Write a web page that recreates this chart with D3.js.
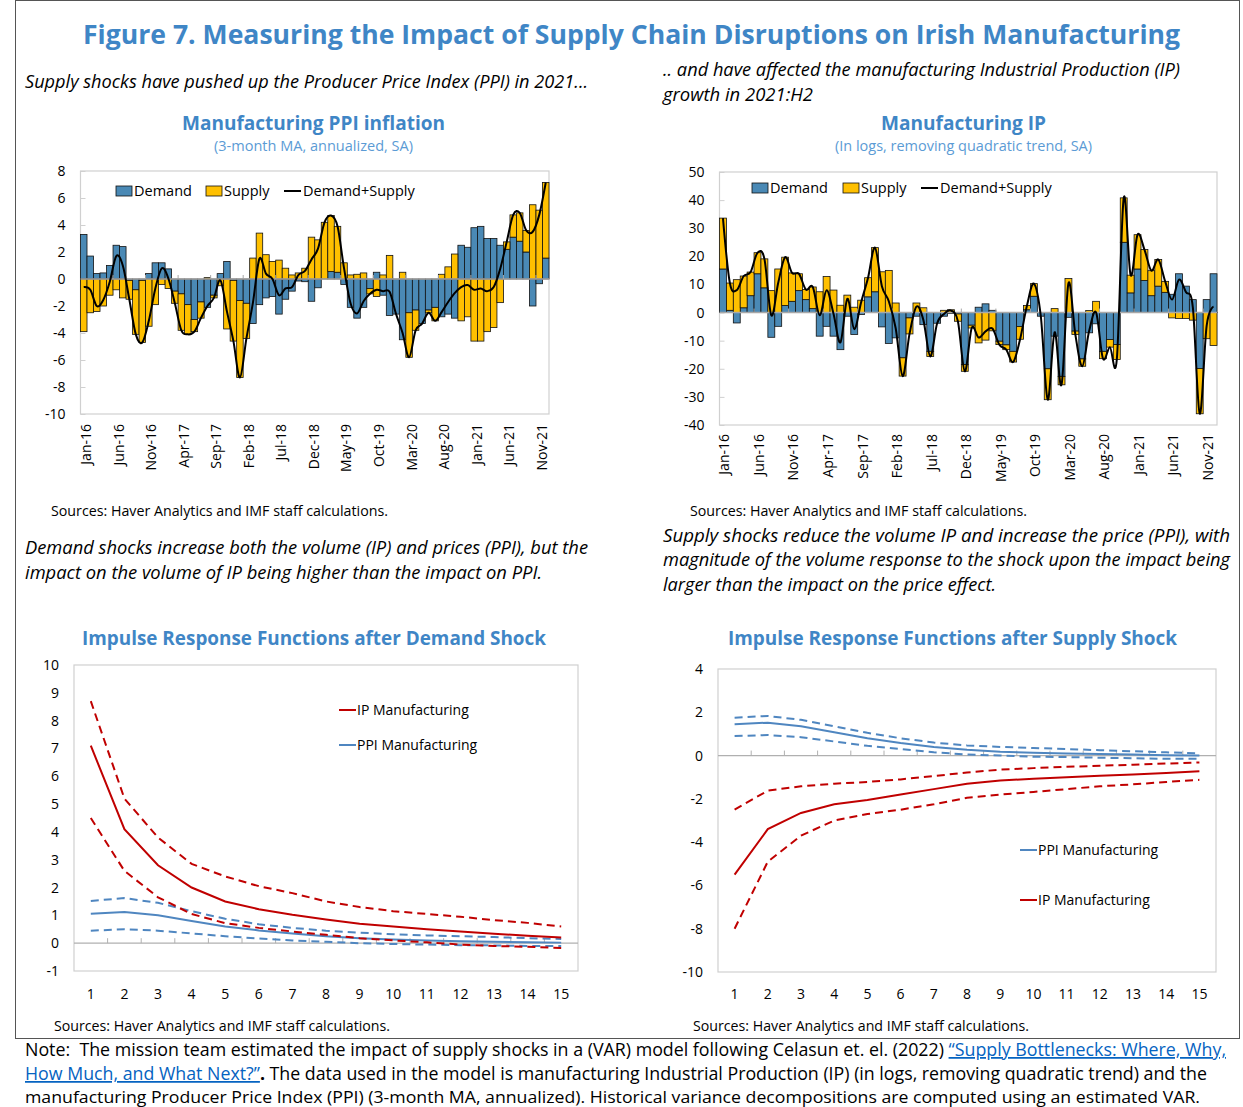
<!DOCTYPE html>
<html><head><meta charset="utf-8">
<script src="https://cdn.jsdelivr.net/npm/d3@7"></script>
<style>body{margin:0;background:#fff} svg{display:block}</style>
</head><body>
<svg id="c" width="1243" height="1107"></svg>
<script>
// ---------------- DATA ----------------
const months = d3.timeMonth.range(new Date(2016,0,1), new Date(2022,0,1)); // Jan-16 .. Dec-21
const dateTickLabels = ["Jan-16","Jun-16","Nov-16","Apr-17","Sep-17","Feb-18","Jul-18","Dec-18","May-19","Oct-19","Mar-20","Aug-20","Jan-21","Jun-21","Nov-21"];

const ppiDemand = [3.3,1.7,0.4,0.45,1.0,2.5,2.4,-0.1,-0.8,-0.1,0.4,1.2,1.2,0.75,-0.9,-1.1,-1.9,-3.0,-1.7,-2.1,-1.2,0.4,1.3,-0.1,
  -1.6,-1.8,-3.3,-1.9,-1.4,-1.3,-2.6,-1.5,-0.9,-0.15,-0.2,-1.65,-0.65,0,0.55,0.5,-0.4,-2.1,-2.9,-2.1,-0.7,0.5,-1.2,-2.7,
  -2.6,-4.5,-2.5,-2.3,-3.3,-2.3,-2.1,-2.8,-2.6,-2.9,2.5,2.35,3.8,3.9,3.0,3.0,2.5,2.2,3.1,2.8,2.0,-2.0,-0.35,1.55];
const ppiSupply = [-3.9,-2.5,-2.4,-2.0,-1.2,-0.8,-1.4,-1.4,-3.3,-4.6,-3.5,-1.9,-0.4,-0.7,-0.9,-2.7,-2.2,-0.9,-1.2,0.1,-0.2,-0.5,-3.7,-4.5,
  -5.7,-2.6,1.55,3.4,1.8,1.3,1.4,0.8,0.3,0.45,0.8,3.1,2.9,4.2,4.15,3.4,1.2,0.3,0.35,0.45,-0.4,-1.3,0.3,1.75,
  0,0.5,-3.3,-1.5,0,-0.2,-1.0,0.35,0.9,1.85,-3.1,-2.8,-4.6,-4.6,-3.9,-3.6,-1.75,0.55,1.65,2.1,1.6,5.5,5.1,5.6];

const ipDemand = [15.5,0.8,-3.7,1.7,6.0,13.8,8.8,-8.8,-4.9,2.5,4.0,7.8,4.6,1.4,-8.4,-4.9,-8.4,-13.2,-1.3,-7.8,-0.7,5.6,7.4,-5.1,
  -11,-9,-16.1,-1.9,-1.3,-4.3,-13.8,-3.8,-1.3,-0.3,-0.5,-18.5,-4.5,1.9,3.1,0.8,-10.2,-11.5,-13.8,-5,1.0,5.8,-1.3,-20,
  -8.4,-22.7,-1.7,-6.6,-16.5,-7.2,-4.0,-13.8,-9.6,-11.4,25.0,7.0,15.5,11.4,6.0,9.4,7.2,6.5,13.8,9.4,4.6,-19.9,4.6,13.8];
const ipSupply = [18.1,9.7,11.7,11.3,8.4,7.5,10.3,7.8,15.5,17.2,10.1,6.0,3.6,7.7,7.4,12.8,8.0,2.6,6.2,1.9,4.4,6.8,15.7,14.5,
  15,3.4,-6.5,-5.7,3.4,1.7,-1.8,0,0.8,1.0,-2.6,-2.4,-1.0,-10.8,-9.8,-6.5,-1.2,-1.7,-3.8,-4.5,1.5,4.5,0,-11,
  1.4,-3,12.1,-1.2,-2.6,0.7,4.0,-2.6,-2.7,-5.3,15.8,6.3,12.2,11.0,8.9,9.5,3.9,-1.9,-2.1,-2.1,-2.7,-16.1,-9.3,-11.7];

const ppiTicks = [-10,-8,-6,-4,-2,0,2,4,6,8];
const ipTicks = [-40,-30,-20,-10,0,10,20,30,40,50];

const horizons = [1,2,3,4,5,6,7,8,9,10,11,12,13,14,15];
const demTicks = [-1,0,1,2,3,4,5,6,7,8,9,10];
const supTicks = [-10,-8,-6,-4,-2,0,2,4];

const demIP    = [7.1,4.1,2.8,2.0,1.5,1.22,1.02,0.85,0.7,0.6,0.5,0.42,0.34,0.27,0.2];
const demIPhi  = [8.7,5.2,3.8,2.85,2.4,2.05,1.8,1.5,1.3,1.15,1.05,0.95,0.83,0.73,0.6];
const demIPlo  = [4.5,2.6,1.65,1.05,0.72,0.55,0.42,0.3,0.18,0.1,0.03,-0.05,-0.1,-0.13,-0.17];
const demPPI   = [1.06,1.12,1.0,0.8,0.6,0.46,0.35,0.25,0.18,0.13,0.1,0.07,0.05,0.03,0.02];
const demPPIhi = [1.52,1.62,1.45,1.15,0.88,0.68,0.55,0.45,0.38,0.32,0.28,0.25,0.22,0.18,0.15];
const demPPIlo = [0.45,0.5,0.45,0.35,0.25,0.17,0.1,0.05,0.0,-0.03,-0.05,-0.07,-0.08,-0.1,-0.1];

const supIP    = [-5.5,-3.4,-2.65,-2.25,-2.05,-1.8,-1.55,-1.3,-1.15,-1.07,-1.0,-0.93,-0.87,-0.8,-0.72];
const supIPhi  = [-2.5,-1.62,-1.42,-1.3,-1.22,-1.1,-0.95,-0.78,-0.65,-0.58,-0.52,-0.47,-0.42,-0.37,-0.32];
const supIPlo  = [-8.0,-4.9,-3.7,-3.0,-2.7,-2.5,-2.25,-1.95,-1.8,-1.68,-1.55,-1.42,-1.33,-1.22,-1.12];
const supPPI   = [1.45,1.52,1.35,1.08,0.8,0.58,0.4,0.27,0.18,0.13,0.1,0.07,0.05,0.02,0.0];
const supPPIhi = [1.75,1.83,1.65,1.35,1.05,0.8,0.6,0.47,0.4,0.35,0.3,0.25,0.2,0.15,0.1];
const supPPIlo = [0.9,0.95,0.85,0.65,0.45,0.3,0.15,0.05,0.0,-0.05,-0.07,-0.1,-0.12,-0.15,-0.15];

// ---------------- STYLE ----------------
const FONT = "'Open Sans','Noto Sans',sans-serif";
const TITLE_BLUE = "#3f86c6";
const SUB_BLUE = "#5b9bd5";
const BAR_BLUE = "#4a89b5";
const BAR_YELLOW = "#ffc000";
const RED = "#c00000";
const LBLUE = "#4f86c0";
const fmt = d => String(d); // plain hyphen minus, as in the original

const svg = d3.select("#c");

function txt(x, y, str, o = {}) {
  const t = svg.append("text").attr("x", x).attr("y", y)
    .attr("font-family", FONT).attr("font-size", o.size || 14)
    .attr("fill", o.fill || "#000");
  if (o.weight) t.attr("font-weight", o.weight);
  if (o.style) t.attr("font-style", o.style);
  if (o.anchor) t.attr("text-anchor", o.anchor);
  if (str !== null) t.text(str);
  if (o.width) t.attr("textLength", o.width).attr("lengthAdjust", "spacingAndGlyphs");
  return t;
}

// figure frame
svg.append("rect").attr("x", 15.5).attr("y", 0.5).attr("width", 1224).attr("height", 1038)
  .attr("fill", "none").attr("stroke", "#555").attr("stroke-width", 1);

// ---------------- TEXTS ----------------
txt(83, 44, "Figure 7. Measuring the Impact of Supply Chain Disruptions on Irish Manufacturing",
  {size: 27, weight: "bold", fill: TITLE_BLUE, width: 1097});
txt(25, 88, "Supply shocks have pushed up the Producer Price Index (PPI) in 2021...", {size: 17.5, style: "italic", width: 563});
txt(663, 76, ".. and have affected the manufacturing Industrial Production (IP)", {size: 17.5, style: "italic", width: 517});
txt(663, 101, "growth in 2021:H2", {size: 17.5, style: "italic", width: 150});

txt(182, 130, "Manufacturing PPI inflation", {size: 20, weight: "bold", fill: TITLE_BLUE, width: 263});
txt(214, 151, "(3-month MA, annualized, SA)", {size: 14, fill: SUB_BLUE, width: 199});
txt(881, 130, "Manufacturing IP", {size: 20, weight: "bold", fill: TITLE_BLUE, width: 165});
txt(835, 151, "(In logs, removing quadratic trend, SA)", {size: 14, fill: SUB_BLUE, width: 257});

txt(51, 516, "Sources: Haver Analytics and IMF staff calculations.", {size: 14, width: 337});
txt(690, 516, "Sources: Haver Analytics and IMF staff calculations.", {size: 14, width: 337});

txt(25, 554, "Demand shocks increase both the volume (IP) and prices (PPI), but the", {size: 17.5, style: "italic", width: 563});
txt(25, 579, "impact on the volume of IP being higher than the impact on PPI.", {size: 17.5, style: "italic", width: 517});
txt(663, 542, "Supply shocks reduce the volume IP and increase the price (PPI), with", {size: 17.5, style: "italic", width: 567});
txt(663, 566, "magnitude of the volume response to the shock upon the impact being", {size: 17.5, style: "italic", width: 567});
txt(663, 591, "larger than the impact on the price effect.", {size: 17.5, style: "italic", width: 333});

txt(82, 645, "Impulse Response Functions after Demand Shock", {size: 20, weight: "bold", fill: TITLE_BLUE, width: 464});
txt(728, 645, "Impulse Response Functions after Supply Shock", {size: 20, weight: "bold", fill: TITLE_BLUE, width: 449});

txt(54, 1031, "Sources: Haver Analytics and IMF staff calculations.", {size: 14, width: 336});
txt(693, 1031, "Sources: Haver Analytics and IMF staff calculations.", {size: 14, width: 336});

// note
{
  const LINK = "#0563c1";
  const t1 = txt(25, 1056, null, {size: 17.5, width: 1201});
  t1.append("tspan").text("Note:\u00a0 The mission team estimated the impact of supply shocks in a (VAR) model following Celasun et. el. (2022) ");
  t1.append("tspan").attr("fill", LINK).attr("text-decoration", "underline").text("\u201cSupply Bottlenecks: Where, Why,");
  const t2 = txt(25, 1080, null, {size: 17.5, width: 1182});
  t2.append("tspan").attr("fill", LINK).attr("text-decoration", "underline").text("How Much, and What Next?\u201d");
  t2.append("tspan").attr("font-weight", "bold").text(".");
  t2.append("tspan").text(" The data used in the model is manufacturing Industrial Production (IP) (in logs, removing quadratic trend) and the");
  txt(25, 1103, "manufacturing Producer Price Index (PPI) (3-month MA, annualized). Historical variance decompositions are computed using an estimated VAR.", {size: 17, width: 1175});
}

// ---------------- BAR CHARTS ----------------
function barChart(cfg) {
  const {L, R, T, B, dom, ticks, dem, sup, leg, labTop, labShift} = cfg;
  const x = d3.scaleBand().domain(d3.range(months.length)).range([L, R]).paddingInner(0).paddingOuter(0);
  const y = d3.scaleLinear().domain(dom).range([B, T]);
  const g = svg.append("g");

  g.append("rect").attr("x", L).attr("y", T).attr("width", R - L).attr("height", B - T)
    .attr("fill", "none").attr("stroke", "#d0d0d0").attr("stroke-width", 1.2);

  // y axis
  const ya = g.append("g").attr("transform", `translate(${L},0)`)
    .call(d3.axisLeft(y).tickValues(ticks).tickFormat(fmt).tickSizeInner(-5).tickSizeOuter(0).tickPadding(15));
  ya.select(".domain").remove();
  ya.selectAll("line").attr("stroke", "#d0d0d0");
  ya.selectAll("text").attr("font-family", FONT).attr("font-size", 14).attr("fill", "#000");

  // stacked bars
  const rows = dem.map((d, i) => ({i, Demand: d, Supply: sup[i]}));
  const series = d3.stack().keys(["Demand", "Supply"]).offset(d3.stackOffsetDiverging)(rows);
  const colors = {Demand: BAR_BLUE, Supply: BAR_YELLOW};
  series.forEach(s => {
    g.append("g").selectAll("rect").data(s).join("rect")
      .attr("x", d => x(d.data.i))
      .attr("width", x.bandwidth())
      .attr("y", d => y(Math.max(d[0], d[1])))
      .attr("height", d => Math.abs(y(d[0]) - y(d[1])))
      .attr("fill", colors[s.key]).attr("stroke", "#111").attr("stroke-width", 0.8);
  });

  // zero line + category ticks
  g.append("line").attr("x1", L).attr("x2", R).attr("y1", y(0)).attr("y2", y(0))
    .attr("stroke", "#a8a8a8").attr("stroke-width", 1.5);
  g.append("g").selectAll("line").data(d3.range(5, months.length, 5)).join("line")
    .attr("x1", i => x(i)).attr("x2", i => x(i)).attr("y1", y(0)).attr("y2", y(0) - 4)
    .attr("stroke", "#a8a8a8").attr("stroke-width", 1);

  // total line
  const total = dem.map((d, i) => d + sup[i]);
  g.append("path").datum(total)
    .attr("d", d3.line().x((d, i) => x(i) + x.bandwidth() / 2).y(d => y(d)).curve(d3.curveCardinal.tension(0)))
    .attr("fill", "none").attr("stroke", "#000").attr("stroke-width", 2);

  // x axis labels (rotated)
  const xa = g.append("g").attr("transform", `translate(${labShift},${labTop})`)
    .call(d3.axisBottom(x).tickValues(d3.range(0, months.length, 5))
      .tickFormat(i => dateTickLabels[i / 5]).tickSize(0).tickPadding(0));
  xa.select(".domain").remove();
  xa.selectAll("text").attr("font-family", FONT).attr("font-size", 14).attr("fill", "#000")
    .attr("x", 0).attr("y", 0).attr("dy", "0.35em").attr("transform", "rotate(-90)").attr("text-anchor", "end");

  // legend
  const ly = leg.y;
  [["Demand", BAR_BLUE, leg.x1], ["Supply", BAR_YELLOW, leg.x2]].forEach(([lab, col, lx]) => {
    g.append("rect").attr("x", lx).attr("y", ly - 5).attr("width", 16).attr("height", 10)
      .attr("fill", col).attr("stroke", "#111").attr("stroke-width", 0.8);
    g.append("text").attr("x", lx + 18).attr("y", ly).attr("dy", "0.35em").attr("font-family", FONT)
      .attr("font-size", 14.5).text(lab);
  });
  g.append("line").attr("x1", leg.x3).attr("x2", leg.x3 + 17).attr("y1", ly).attr("y2", ly)
    .attr("stroke", "#000").attr("stroke-width", 2);
  g.append("text").attr("x", leg.x3 + 19).attr("y", ly).attr("dy", "0.35em").attr("font-family", FONT)
    .attr("font-size", 14.5).text("Demand+Supply");
}

barChart({L: 80.5, R: 549, T: 171, B: 414, dom: [-10, 8], ticks: ppiTicks, dem: ppiDemand, sup: ppiSupply,
  leg: {y: 191, x1: 116, x2: 206, x3: 284}, labTop: 424, labShift: 2.5});
barChart({L: 719.5, R: 1217, T: 172, B: 425, dom: [-40, 50], ticks: ipTicks, dem: ipDemand, sup: ipSupply,
  leg: {y: 188, x1: 752, x2: 843, x3: 921}, labTop: 434, labShift: 1.5});

// ---------------- IRF CHARTS ----------------
function irfChart(cfg) {
  const {L, R, T, B, dom, ticks, lines, legend, labPad} = cfg;
  const x = d3.scaleBand().domain(horizons).range([L, R]).paddingInner(0).paddingOuter(0);
  const cx = h => x(h) + x.bandwidth() / 2;
  const y = d3.scaleLinear().domain(dom).range([B, T]);
  const g = svg.append("g");

  g.append("rect").attr("x", L).attr("y", T).attr("width", R - L).attr("height", B - T)
    .attr("fill", "none").attr("stroke", "#d0d0d0").attr("stroke-width", 1.2);

  const ya = g.append("g").attr("transform", `translate(${L},0)`)
    .call(d3.axisLeft(y).tickValues(ticks).tickFormat(fmt).tickSize(0).tickPadding(15));
  ya.select(".domain").remove();
  ya.selectAll("text").attr("font-family", FONT).attr("font-size", 14).attr("fill", "#000");

  const xa = g.append("g").attr("transform", `translate(0,${B})`)
    .call(d3.axisBottom(x).tickSize(0).tickPadding(labPad));
  xa.select(".domain").remove();
  xa.selectAll("text").attr("font-family", FONT).attr("font-size", 14).attr("fill", "#000");

  g.append("line").attr("x1", L).attr("x2", R).attr("y1", y(0)).attr("y2", y(0))
    .attr("stroke", "#b0b0b0").attr("stroke-width", 1.2);
  g.append("g").selectAll("line").data(horizons.slice(1)).join("line")
    .attr("x1", h => x(h)).attr("x2", h => x(h)).attr("y1", y(0)).attr("y2", y(0) - 5)
    .attr("stroke", "#b0b0b0").attr("stroke-width", 1);

  const lg = d3.line().x((d, i) => cx(horizons[i])).y(d => y(d));
  lines.forEach(l => {
    g.append("path").datum(l.vals).attr("d", lg).attr("fill", "none")
      .attr("stroke", l.color).attr("stroke-width", 2)
      .attr("stroke-dasharray", l.dash ? "8,5" : null);
  });

  legend.forEach(l => {
    g.append("line").attr("x1", l.x).attr("x2", l.x + 17).attr("y1", l.y).attr("y2", l.y)
      .attr("stroke", l.color).attr("stroke-width", 2);
    g.append("text").attr("x", l.x + 18).attr("y", l.y).attr("dy", "0.35em").attr("font-family", FONT)
      .attr("font-size", 14).text(l.label);
  });
}

irfChart({L: 74, R: 578, T: 665, B: 971, dom: [-1, 10], ticks: demTicks, labPad: 18,
  lines: [
    {vals: demPPIhi, color: LBLUE, dash: true}, {vals: demPPIlo, color: LBLUE, dash: true}, {vals: demPPI, color: LBLUE},
    {vals: demIPhi, color: RED, dash: true}, {vals: demIPlo, color: RED, dash: true}, {vals: demIP, color: RED}
  ],
  legend: [{x: 339, y: 710, color: RED, label: "IP Manufacturing"}, {x: 339, y: 745, color: LBLUE, label: "PPI Manufacturing"}]
});

irfChart({L: 718, R: 1216, T: 669, B: 972, dom: [-10, 4], ticks: supTicks, labPad: 17,
  lines: [
    {vals: supPPIhi, color: LBLUE, dash: true}, {vals: supPPIlo, color: LBLUE, dash: true}, {vals: supPPI, color: LBLUE},
    {vals: supIPhi, color: RED, dash: true}, {vals: supIPlo, color: RED, dash: true}, {vals: supIP, color: RED}
  ],
  legend: [{x: 1020, y: 850, color: LBLUE, label: "PPI Manufacturing"}, {x: 1020, y: 900, color: RED, label: "IP Manufacturing"}]
});
</script>
</body></html>
